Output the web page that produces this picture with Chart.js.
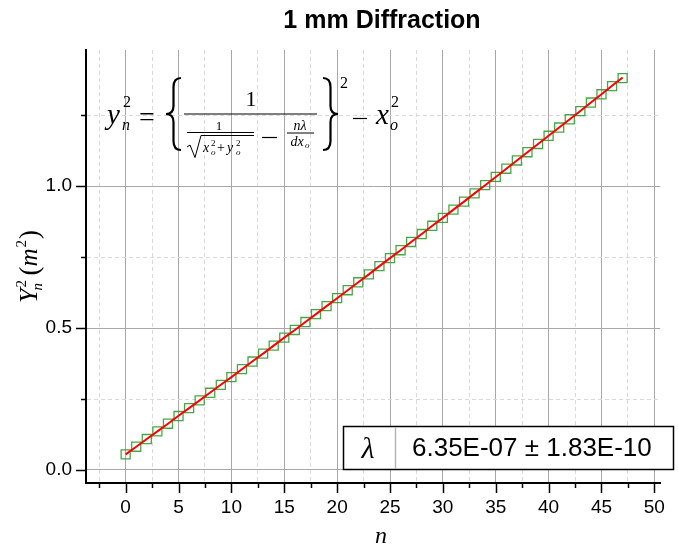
<!DOCTYPE html>
<html>
<head>
<meta charset="utf-8">
<title>1 mm Diffraction</title>
<script src="https://cdn.jsdelivr.net/npm/chart.js@4.4.1/dist/chart.umd.min.js"></script>
<style>
  html, body { margin: 0; padding: 0; background: #ffffff; }
</style>
</head>
<body>
<canvas id="diffchart" width="678" height="549"></canvas>
<script>
// order number n of each fringe
var orders = [0, 1, 2, 3, 4, 5, 6, 7, 8, 9, 10, 11, 12, 13, 14, 15, 16, 17, 18, 19, 20, 21, 22, 23,
              24, 25, 26, 27, 28, 29, 30, 31, 32, 33, 34, 35, 36, 37, 38, 39, 40, 41, 42, 43, 44, 45, 46, 47];
// measured Y_n^2 (m^2)
var ySquared = [0.055, 0.082, 0.109, 0.136, 0.163, 0.190, 0.218, 0.245, 0.272, 0.300, 0.327, 0.355,
                0.382, 0.410, 0.438, 0.466, 0.493, 0.521, 0.549, 0.577, 0.605, 0.633, 0.661, 0.689,
                0.718, 0.746, 0.774, 0.803, 0.831, 0.860, 0.888, 0.917, 0.945, 0.974, 1.003, 1.032,
                1.061, 1.090, 1.119, 1.148, 1.177, 1.206, 1.235, 1.264, 1.294, 1.323, 1.352, 1.380];
// fitted curve through the same orders
var fitSquared = [0.055, 0.082, 0.109, 0.136, 0.163, 0.191, 0.218, 0.245, 0.273, 0.300, 0.327, 0.355,
                  0.383, 0.410, 0.438, 0.466, 0.493, 0.521, 0.549, 0.577, 0.605, 0.633, 0.661, 0.689,
                  0.718, 0.746, 0.774, 0.803, 0.831, 0.860, 0.888, 0.917, 0.945, 0.974, 1.003, 1.032,
                  1.061, 1.090, 1.119, 1.148, 1.177, 1.206, 1.235, 1.264, 1.294, 1.323, 1.353, 1.382];

var xTicks = [-2.5, 0, 2.5, 5, 7.5, 10, 12.5, 15, 17.5, 20, 22.5, 25, 27.5, 30, 32.5, 35, 37.5, 40, 42.5, 45, 47.5, 50];
var yTicks = [0, 0.25, 0.5, 0.75, 1.0, 1.25];
var xMajorStep = 5;
var yMajorStep = 0.5;

var lambdaText = "6.35E-07 \u00b1 1.83E-10";

function isMajor(v, step) {
  return Math.abs(v / step - Math.round(v / step)) < 1e-6;
}

var pointData = orders.map(function(n, i) { return { x: n, y: ySquared[i] }; });
var fitData = orders.map(function(n, i) { return { x: n, y: fitSquared[i] }; });

var serif = '"Liberation Serif", "DejaVu Serif", serif';
var sans = '"Liberation Sans", Arial, sans-serif';

function mtext(ctx, s, x, y, size, italic, align) {
  ctx.font = (italic ? 'italic ' : '') + size + 'px ' + serif;
  ctx.textAlign = align || 'left';
  ctx.textBaseline = 'alphabetic';
  ctx.fillText(s, x, y);
  return ctx.measureText(s).width;
}

function hline(ctx, x1, x2, y, w) {
  ctx.lineWidth = w;
  ctx.beginPath();
  ctx.moveTo(x1, y);
  ctx.lineTo(x2, y);
  ctx.stroke();
}

// curly brace, xEnd = open side, xTip = point side
function drawBrace(ctx, xEnd, xSpine, xTip, top, bot) {
  var mid = (top + bot) / 2;
  ctx.lineWidth = 2.2;
  ctx.beginPath();
  ctx.moveTo(xEnd, top);
  ctx.quadraticCurveTo(xSpine, top, xSpine, top + 9);
  ctx.lineTo(xSpine, mid - 8);
  ctx.quadraticCurveTo(xSpine, mid, xTip, mid);
  ctx.quadraticCurveTo(xSpine, mid, xSpine, mid + 8);
  ctx.lineTo(xSpine, bot - 9);
  ctx.quadraticCurveTo(xSpine, bot, xEnd, bot);
  ctx.stroke();
}

// ticks marks, title, formula, axis titles, lambda box
var annotations = {
  id: 'annotations',
  afterDraw: function(chart) {
    var ctx = chart.ctx;
    var xs = chart.scales.x, ys = chart.scales.y;
    ctx.save();
    ctx.strokeStyle = '#000';
    ctx.fillStyle = '#000';

    //tick marks (outside)
    ctx.lineWidth = 1.5;
    xs.ticks.forEach(function(t) {
      var px = Math.round(xs.getPixelForValue(t.value)) + 0.5;
      var len = isMajor(t.value, xMajorStep) ? 10 : 5;
      ctx.beginPath();
      ctx.moveTo(px, xs.top);
      ctx.lineTo(px, xs.top + len);
      ctx.stroke();
    });
    ys.ticks.forEach(function(t) {
      var py = Math.round(ys.getPixelForValue(t.value)) + 0.5;
      var len = isMajor(t.value, yMajorStep) ? 10 : 5;
      ctx.beginPath();
      ctx.moveTo(ys.right, py);
      ctx.lineTo(ys.right - len, py);
      ctx.stroke();
    });

    // title
    ctx.font = 'bold 25px ' + sans;
    ctx.textAlign = 'center';
    ctx.textBaseline = 'middle';
    ctx.fillText('1 mm Diffraction', 382, 21);

    // x axis title
    mtext(ctx, 'n', 381, 543, 24, true, 'center');

    // y axis title
    ctx.save();
    ctx.translate(37, 303);
    ctx.rotate(-Math.PI / 2);
    var w = mtext(ctx, 'Y', 0, 0, 26, true);
    mtext(ctx, '2', w + 1, -11, 15, false);
    mtext(ctx, 'n', w - 2, 5, 15, true);
    var cx = w + 13;
    cx += mtext(ctx, '(', cx, 1, 27, false);
    cx += mtext(ctx, 'm', cx, 0, 25, true);
    cx += mtext(ctx, '2', cx + 1, -11, 15, false) + 2;
    mtext(ctx, ')', cx, 1, 27, false);
    ctx.restore();

    // formula
    mtext(ctx, 'y', 107, 124, 29, true);
    mtext(ctx, '2', 123, 107, 16, false);
    mtext(ctx, 'n', 122, 130, 16, true);
    mtext(ctx, '=', 139, 126, 28, false);
    drawBrace(ctx, 181, 173.5, 166, 78, 150);
    hline(ctx, 184, 317, 114, 1.2);
    mtext(ctx, '1', 251, 106, 22, false, 'center');
    mtext(ctx, '1', 219, 130, 13, false, 'center');
    hline(ctx, 187, 254, 132.5, 1);
    ctx.lineWidth = 1;
    ctx.beginPath();
    ctx.moveTo(187, 147);
    ctx.lineTo(190, 145);
    ctx.lineTo(195, 157.5);
    ctx.lineTo(201, 135.5);
    ctx.lineTo(254, 135.5);
    ctx.stroke();
    mtext(ctx, 'x', 203, 152, 14, true);
    mtext(ctx, '2', 211, 146, 9, false);
    mtext(ctx, 'o', 211, 155, 9, true);
    mtext(ctx, '+', 217, 152, 14, false);
    mtext(ctx, 'y', 227, 152, 14, true);
    mtext(ctx, '2', 236, 146, 9, false);
    mtext(ctx, 'o', 236, 155, 9, true);
    hline(ctx, 262, 277, 137.5, 1.2);
    mtext(ctx, 'n\u03bb', 300, 130, 14, true, 'center');
    hline(ctx, 287, 314, 133, 1);
    mtext(ctx, 'dx', 297, 146, 14, true, 'center');
    mtext(ctx, 'o', 305, 148, 9, true);
    drawBrace(ctx, 323, 330.5, 338, 78, 150);
    mtext(ctx, '2', 340, 88, 16, false);
    hline(ctx, 353, 367, 118.5, 1.2);
    mtext(ctx, 'x', 376, 124, 29, true);
    mtext(ctx, '2', 391, 107, 16, false);
    mtext(ctx, 'o', 390, 130, 16, true);

    // lambda box
    ctx.fillStyle = '#ffffff';
    ctx.fillRect(343, 426, 331, 44);
    ctx.strokeStyle = '#000';
    ctx.lineWidth = 1.5;
    ctx.strokeRect(343.5, 426.5, 330, 43);
    ctx.strokeStyle = '#b4b4b4';
    ctx.beginPath();
    ctx.moveTo(395.5, 427);
    ctx.lineTo(395.5, 469);
    ctx.stroke();
    ctx.fillStyle = '#000';
    mtext(ctx, '\u03bb', 368, 458, 30, true, 'center');
    ctx.font = '26px ' + sans;
    ctx.textAlign = 'left';
    ctx.textBaseline = 'middle';
    ctx.fillText(lambdaText, 412, 449);

    ctx.restore();
  }
};

var ctxD = document.getElementById('diffchart').getContext('2d');
var diffChart = new Chart(ctxD, {
  type: 'scatter',
  data: {
    datasets: [{
      label: 'fit',
      data: fitData,
      showLine: true,
      borderColor: '#ff0000',
      borderWidth: 2,
      pointRadius: 0,
      fill: false,
      order: 0
    }, {
      label: 'data',
      data: pointData,
      showLine: false,
      pointStyle: 'rect',
      pointRadius: 6.4,
      pointBorderColor: 'rgba(40,150,40,0.85)',
      pointBackgroundColor: 'rgba(0,0,0,0)',
      pointBorderWidth: 1.3,
      order: 1
    }]
  },
  options: {
    responsive: false,
    animation: false,
    devicePixelRatio: 1,
    layout: { padding: { left: 0, top: 50, right: 5, bottom: 0 } },
    plugins: {
      legend: { display: false },
      tooltip: { enabled: false },
      title: { display: false }
    },
    scales: {
      x: {
        type: 'linear',
        min: -3.75,
        max: 50.55,
        afterBuildTicks: function(scale) {
          scale.ticks = xTicks.map(function(v) { return { value: v }; });
        },
        afterFit: function(scale) { scale.height = 66; },
        grid: {
          drawTicks: false,
          lineWidth: 1,
          color: function(c) {
            if (!c.tick) return '#a8a8a8';
            return isMajor(c.tick.value, xMajorStep) ? '#a8a8a8' : '#dadada';
          }
        },
        border: {
          color: '#000',
          width: 2,
          dash: function(c) {
            if (!c.tick) return [];
            return isMajor(c.tick.value, xMajorStep) ? [] : [4, 3];
          }
        },
        ticks: {
          autoSkip: false,
          maxRotation: 0,
          padding: 13,
          color: '#000',
          font: { family: sans, size: 19 },
          callback: function(v) { return isMajor(v, xMajorStep) ? String(v) : ''; }
        }
      },
      y: {
        type: 'linear',
        min: -0.0458,
        max: 1.479,
        afterBuildTicks: function(scale) {
          scale.ticks = yTicks.map(function(v) { return { value: v }; });
        },
        afterFit: function(scale) { scale.width = 86; },
        grid: {
          drawTicks: false,
          lineWidth: 1,
          color: function(c) {
            if (!c.tick) return '#a8a8a8';
            return isMajor(c.tick.value, yMajorStep) ? '#a8a8a8' : '#dadada';
          }
        },
        border: {
          color: '#000',
          width: 2,
          dash: function(c) {
            if (!c.tick) return [];
            return isMajor(c.tick.value, yMajorStep) ? [] : [4, 3];
          }
        },
        ticks: {
          autoSkip: false,
          padding: 14,
          color: '#000',
          font: { family: sans, size: 19 },
          callback: function(v) { return isMajor(v, yMajorStep) ? v.toFixed(1) : ''; }
        }
      }
    }
  },
  plugins: [annotations]
});
</script>
</body>
</html>
